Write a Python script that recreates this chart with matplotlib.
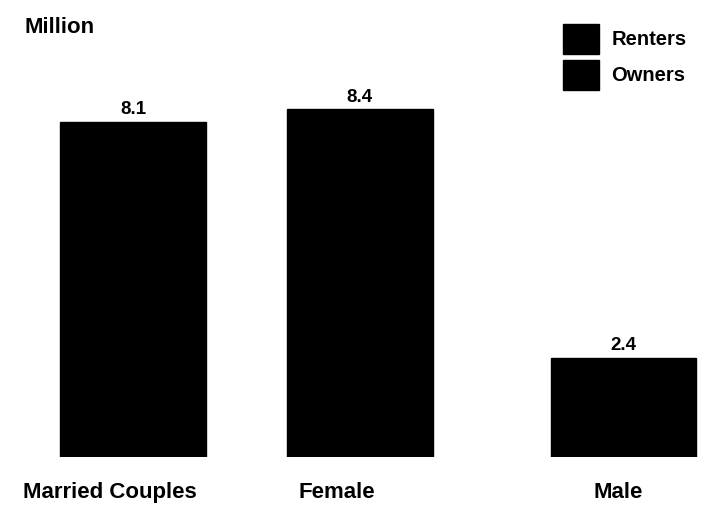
import matplotlib
matplotlib.use("Agg")
import matplotlib.pyplot as plt
from matplotlib.patches import Patch

# data (only totals are legible, both tenure shades print black)
categories = ["Married Couples", "Female", "Male"]
totals = [8.1, 8.4, 2.4]
value_labels = ["8.1", "8.4", "2.4"]
legend_labels = ["Renters", "Owners"]

plt.rcParams["font.family"] = ["Liberation Sans", "DejaVu Sans"]

fig = plt.figure(figsize=(7.23, 5.11), dpi=100)
ax = fig.add_axes([0, 54 / 511, 1, 414 / 511])

xpos = [0, 1, 2.16]
ax.bar(xpos, totals, width=0.64, color="black", edgecolor="black")

for x, v, lab in zip(xpos, totals, value_labels):
    ax.text(x, v + 0.08, lab, ha="center", va="bottom",
            fontsize=13.5, fontweight="bold")

label_dx = [-0.1, -0.1, -0.02]
for x, dx, cat in zip(xpos, label_dx, categories):
    ax.text(x + dx, -0.6, cat, ha="center", va="top",
            fontsize=16, fontweight="bold")

ax.set_xlim(-0.586, 2.6)
ax.set_ylim(0, 10)
ax.axis("off")

fig.text(25 / 723, 1 - 27 / 511, "Million", ha="left", va="center",
         fontsize=16, fontweight="bold")

handles = [Patch(facecolor="black", edgecolor="black") for _ in legend_labels]
fig.legend(handles, legend_labels, loc="upper left",
           bbox_to_anchor=(545 / 723, 1 - 6 / 511), frameon=False,
           handlelength=1.8, handleheight=1.9, handletextpad=0.6,
           labelspacing=0.3, prop={"size": 14.5, "weight": "bold"})

fig.savefig("out.png", dpi=100)
